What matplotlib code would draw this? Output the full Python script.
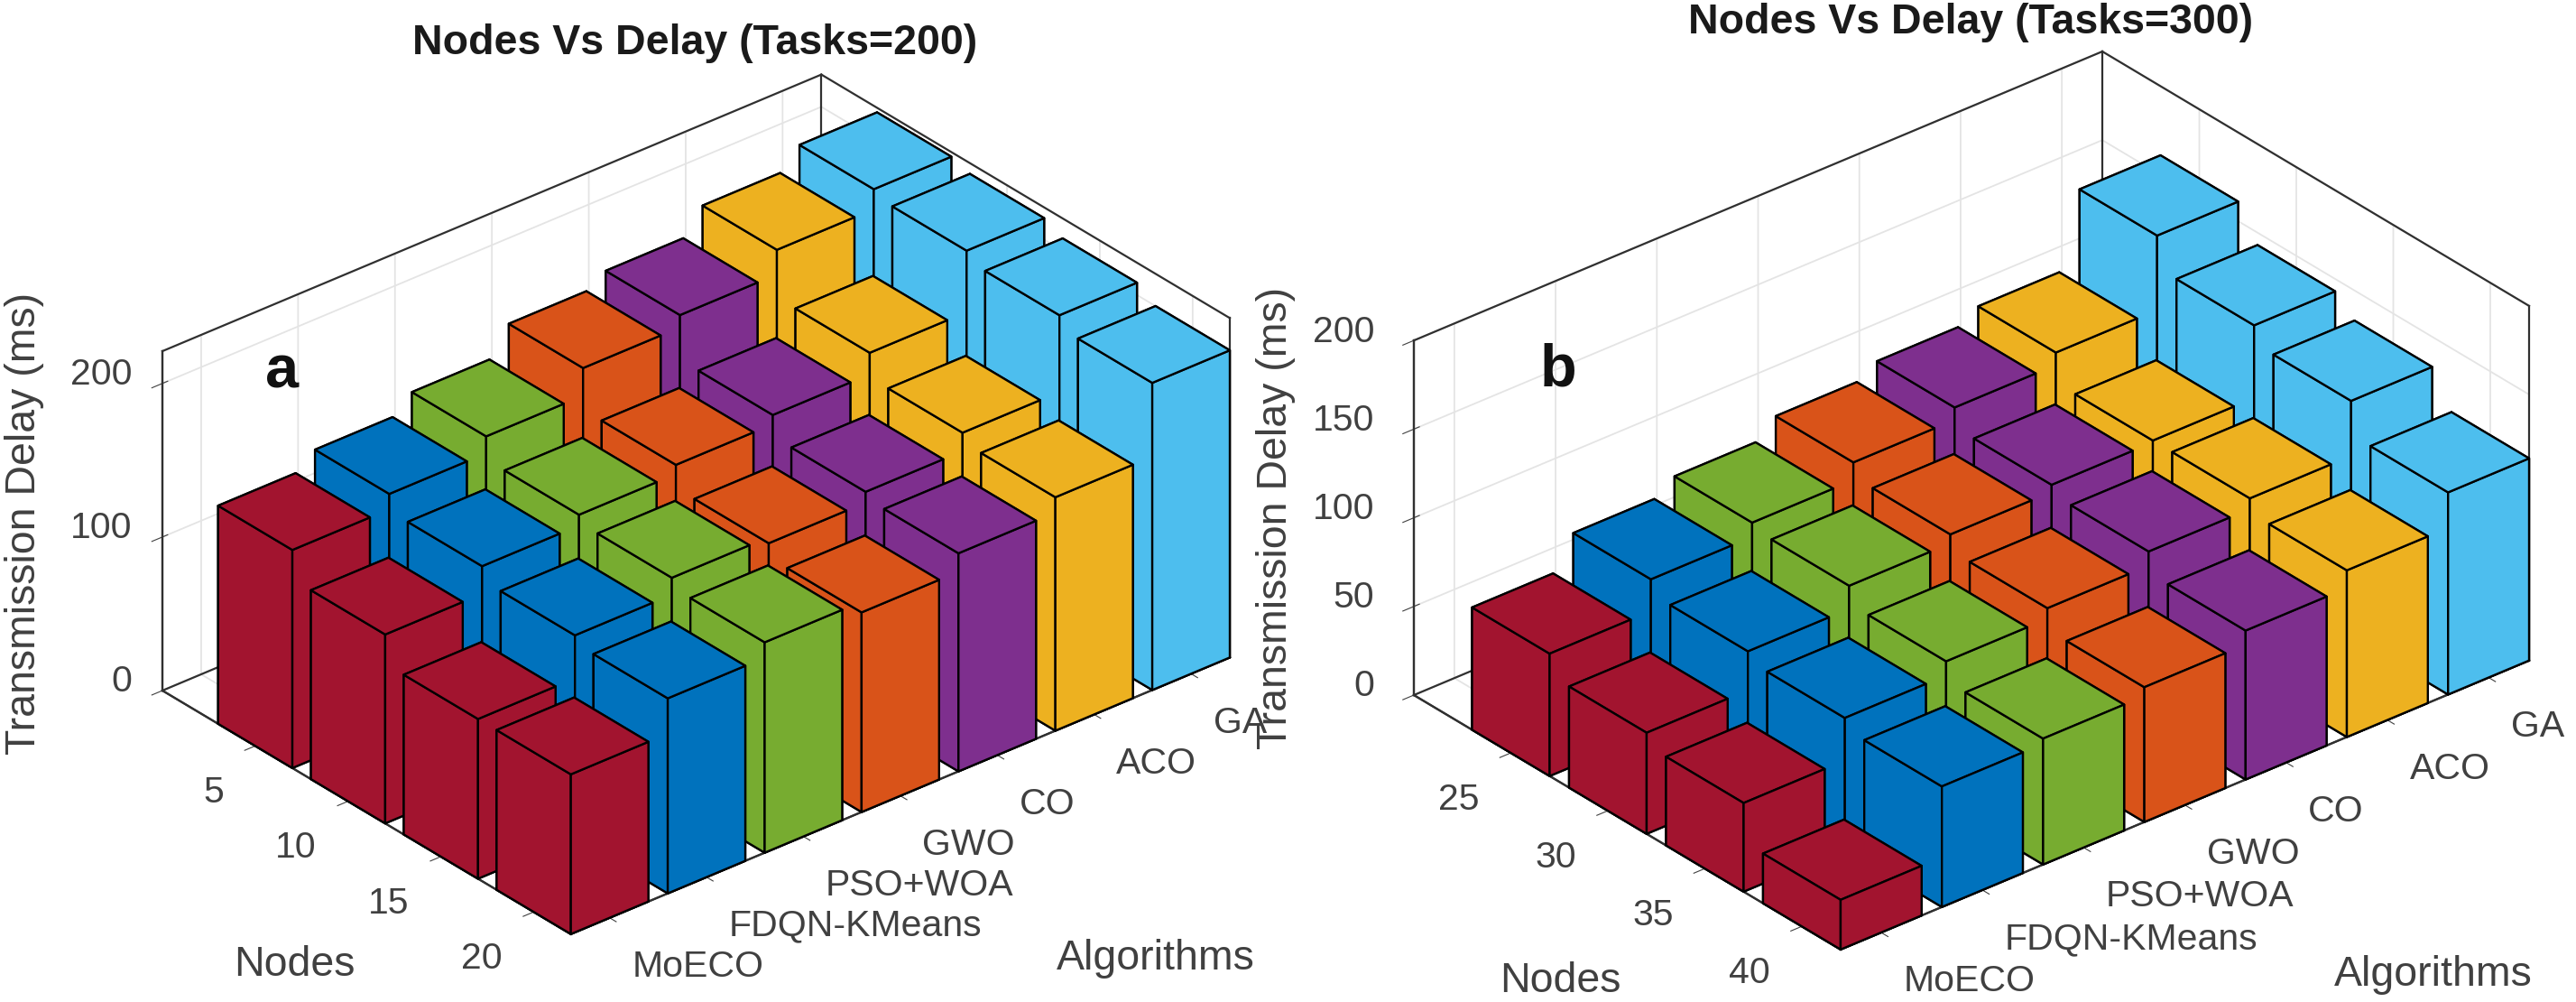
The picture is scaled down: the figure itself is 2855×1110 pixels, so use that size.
import matplotlib
matplotlib.use("Agg")
import matplotlib.pyplot as plt
from mpl_toolkits.mplot3d import proj3d

plt.rcParams['font.family'] = ['Liberation Sans', 'DejaVu Sans']

algorithms = ['MoECO', 'FDQN-KMeans', 'PSO+WOA', 'GWO', 'CO', 'ACO', 'GA']
colors = ['#A2142F', '#0072BD', '#77AC30', '#D95319', '#7E2F8E', '#EDB120', '#4DBEEE']

# delay per algorithm, nodes ascending
nodes_a = [5, 10, 15, 20]
delay_a = [
    [142, 123, 104, 104],
    [152, 141, 132, 127],
    [163, 148, 143, 137],
    [181, 154, 139, 130],
    [189, 160, 146, 142],
    [205, 174, 158, 152],
    [218, 214, 208, 200],
]
zticks_a = [0, 100, 200]
ztop_a = 221

nodes_b = [25, 30, 35, 40]
delay_b = [
    [69, 57, 50, 28],
    [87, 79, 74, 68],
    [95, 92, 82, 71],
    [105, 97, 88, 76],
    [112, 101, 96, 84],
    [119, 102, 102, 94],
    [161, 143, 133, 114],
]
zticks_b = [0, 50, 100, 150, 200]
ztop_b = 200

W, H = 2855, 1110
TXT = '#404040'
BOX = '#303030'


def corner_px(ax, x, y, z):
    px, py, _ = proj3d.proj_transform(x, y, z, ax.get_proj())
    return ax.transData.transform((px, py))


def make_panel(fig, nodes, delay, zticks, ztop, left, right, zpad):
    ax = fig.add_axes([0.1, 0.1, 0.3, 0.3 * W / H], projection='3d', proj_type='ortho')
    ax.computed_zorder = False
    ax.view_init(elev=30, azim=-130)
    ax.set_box_aspect((953, 704, 434))

    ax.set_xlim(0.6, 7.4)
    ax.set_ylim(0.6, 5.0)
    ax.set_zlim(0, ztop)

    # box outline behind the bars
    x0, x1, y0, y1 = 0.6, 7.4, 0.6, 5.0
    edges = [
        ([x0, x0], [y1, y1], [0, ztop]), ([x1, x1], [y1, y1], [0, ztop]), ([x1, x1], [y0, y0], [0, ztop]),
        ([x0, x1], [y1, y1], [ztop, ztop]), ([x1, x1], [y0, y1], [ztop, ztop]),
        ([x0, x0], [y0, y1], [0, 0]), ([x0, x1], [y0, y0], [0, 0]),
        ([x0, x1], [y1, y1], [0, 0]), ([x1, x1], [y0, y1], [0, 0]),
    ]
    for ex, ey, ez in edges:
        ax.plot(ex, ey, ez, color=BOX, lw=1.6, zorder=0)

    # far bars first so the near ones paint over them
    z = 1
    for i in range(len(algorithms) - 1, -1, -1):
        for j, n in enumerate(nodes):
            ypos = len(nodes) - j
            ax.bar3d(i + 0.6, ypos - 0.4, 0, 0.8, 0.8, delay[i][j],
                     color=colors[i], edgecolor='black', linewidth=1.7, shade=False, zorder=z)
            z += 1

    ax.set_xticks(range(1, 8))
    ax.set_xticklabels(algorithms, ha='left')
    ax.set_yticks(range(1, 5))
    ax.set_yticklabels(nodes[::-1], ha='right')
    ax.set_zticks(zticks)
    ax.set_zticklabels(zticks, ha='right', va='baseline')
    ax.tick_params(axis='both', labelsize=29.5, labelcolor=TXT, color=TXT)
    ax.tick_params(axis='x', pad=17)
    ax.tick_params(axis='y', pad=14)
    ax.tick_params(axis='z', pad=zpad)

    for axis in (ax.xaxis, ax.yaxis, ax.zaxis):
        axis.set_pane_color((1, 1, 1, 1))
        axis.pane.set_edgecolor((1, 1, 1, 0))
        axis.line.set_color(BOX)
        axis.line.set_linewidth(1.6)
        axis._axinfo['grid']['color'] = '#e4e4e4'
        axis._axinfo['grid']['linewidth'] = 1.3

    # fit the projected box on the wanted pixels
    fig.canvas.draw()
    a = corner_px(ax, 0.6, 5.0, 0)
    b = corner_px(ax, 7.4, 0.6, 0)
    pos = ax.get_position()
    s = pos.width * (right[0] - left[0]) / (b[0] - a[0])
    ax.set_position([pos.x0, pos.y0, s, s * W / H])
    fig.canvas.draw()
    a = corner_px(ax, 0.6, 5.0, 0)
    pos = ax.get_position()
    ax.set_position([pos.x0 + (left[0] - a[0]) / W, pos.y0 + (H - left[1] - a[1]) / H, pos.width, pos.height])
    fig.canvas.draw()
    return ax


def px_text(fig, x, y, s, **kw):
    fig.text(x / W, 1 - y / H, s, ha='center', va='center', **kw)


fig = plt.figure(figsize=(W / 100, H / 100), dpi=100)

make_panel(fig, nodes_a, delay_a, zticks_a, ztop_a, (180, 765), (1363, 729), 5)
make_panel(fig, nodes_b, delay_b, zticks_b, ztop_b, (1567, 770), (2803, 733), 9)

# axis labels sit well away from where mplot3d would put them
label_style = dict(fontsize=33.5, color=TXT)
px_text(fig, 326, 1069, 'Nodes', **label_style)
px_text(fig, 1281, 1062, 'Algorithms', **label_style)
px_text(fig, 27, 580, 'Transmission Delay (ms)', rotation=90, **label_style)
px_text(fig, 1729, 1087, 'Nodes', **label_style)
px_text(fig, 2697, 1080, 'Algorithms', **label_style)
px_text(fig, 1414, 574, 'Transmission Delay (ms)', rotation=90, **label_style)

title_style = dict(fontsize=33.5, fontweight='bold', color='#1a1a1a')
px_text(fig, 770, 48, 'Nodes Vs Delay (Tasks=200)', **title_style)
px_text(fig, 2184, 25, 'Nodes Vs Delay (Tasks=300)', **title_style)
px_text(fig, 313, 413, 'a', fontsize=48, fontweight='bold', color='#111111')
px_text(fig, 1727, 411, 'b', fontsize=48, fontweight='bold', color='#111111')

fig.savefig('out.png', dpi=100)
